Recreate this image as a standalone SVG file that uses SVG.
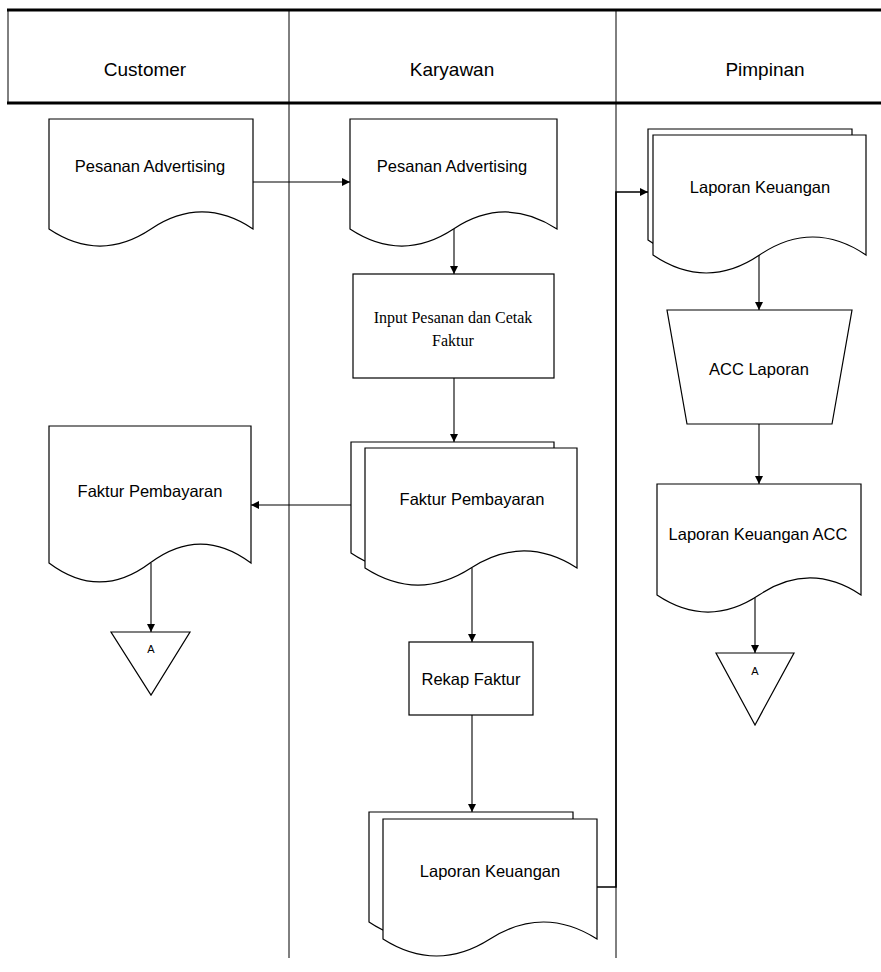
<svg xmlns="http://www.w3.org/2000/svg" width="881" height="972" viewBox="0 0 881 972">
<style>
.shape{fill:#fff;stroke:#000;stroke-width:1.2}
.ln{fill:none;stroke:#000;stroke-width:1.1}
.t{font-family:"Liberation Sans",Arial,sans-serif;font-size:16.5px;fill:#000;text-anchor:middle}
.h{font-family:"Liberation Sans",Arial,sans-serif;font-size:19px;fill:#000;text-anchor:middle}
.s{font-family:"Liberation Serif","Times New Roman",serif;font-size:16px;fill:#000;text-anchor:middle}
.a{font-family:"Liberation Sans",Arial,sans-serif;font-size:11px;fill:#000;text-anchor:middle}
</style>
<defs>
<marker id="arr" markerWidth="9" markerHeight="8" refX="8" refY="4" orient="auto" markerUnits="userSpaceOnUse">
<path d="M0,0 L8,4 L0,8 Z" fill="#000"/>
</marker>
</defs>
<rect width="881" height="972" fill="#fff"/>
<g id="lanes">
<line x1="7" y1="10" x2="881" y2="10" stroke="#000" stroke-width="3"/>
<line x1="7" y1="103" x2="881" y2="103" stroke="#000" stroke-width="3"/>
<line x1="8" y1="10" x2="8" y2="103" stroke="#000" stroke-width="1"/>
<line x1="289" y1="10" x2="289" y2="958" stroke="#000" stroke-width="1"/>
<line x1="616" y1="10" x2="616" y2="958" stroke="#000" stroke-width="1"/>
<text class="h" x="145" y="76">Customer</text>
<text class="h" x="452" y="76">Karyawan</text>
<text class="h" x="765" y="76">Pimpinan</text>
</g>
<g id="connectors">
<path class="ln" d="M253,182 H350" marker-end="url(#arr)"/>
<path class="ln" d="M454,229 V274" marker-end="url(#arr)"/>
<path class="ln" d="M454,378 V442" marker-end="url(#arr)"/>
<path class="ln" d="M351,505 H251" marker-end="url(#arr)"/>
<path class="ln" d="M151,563 V632" marker-end="url(#arr)"/>
<path class="ln" d="M472,568 V642" marker-end="url(#arr)"/>
<path class="ln" d="M472,715 V812" marker-end="url(#arr)"/>
<path d="M597,887 H616 V192 H648" fill="none" stroke="#000" stroke-width="1.6" marker-end="url(#arr)"/>
<path class="ln" d="M759,255 V310" marker-end="url(#arr)"/>
<path class="ln" d="M759,424 V484" marker-end="url(#arr)"/>
<path class="ln" d="M755,598 V653" marker-end="url(#arr)"/>
</g>
<g id="customer-pesanan">
<path class="shape" d="M49,119 H253 V229 C219,206.3 185,206.3 151,229 C117,251.7 83,251.7 49,229 Z"/>
<text class="t" x="150" y="172">Pesanan Advertising</text>
</g>
<g id="karyawan-pesanan">
<path class="shape" d="M350,119 H557 V229 C522.5,206.3 488,206.3 453.5,229 C419,251.7 384.5,251.7 350,229 Z"/>
<text class="t" x="452" y="172">Pesanan Advertising</text>
</g>
<g id="input-pesanan">
<rect class="shape" x="353" y="274" width="201" height="104"/>
<text class="s" x="453" y="323">Input Pesanan dan Cetak</text>
<text class="s" x="453" y="346">Faktur</text>
</g>
<g id="karyawan-faktur">
<path class="shape" d="M351,442 H554 V553 C520,530.3 486,530.3 452.5,553 C419,575.7 385,575.7 351,553 Z"/>
<path class="shape" d="M365,448 H577 V568 C541.7,545.3 506.3,545.3 471,568 C435.7,590.7 400.3,590.7 365,568 Z"/>
<text class="t" x="472" y="505">Faktur Pembayaran</text>
</g>
<g id="customer-faktur">
<path class="shape" d="M49,426 H251 V563 C217.3,537.7 183.7,537.7 150,563 C116.3,588.3 82.7,588.3 49,563 Z"/>
<text class="t" x="150" y="497">Faktur Pembayaran</text>
</g>
<g id="connector-a-customer">
<path class="shape" d="M111,632 H190 L151,695 Z"/>
<text class="a" x="151" y="653">A</text>
</g>
<g id="rekap-faktur">
<rect class="shape" x="409" y="642" width="124" height="73"/>
<text class="t" x="471" y="685">Rekap Faktur</text>
</g>
<g id="karyawan-laporan">
<path class="shape" d="M369,812 H573 V922 C539,899.3 505,899.3 471,922 C437,944.7 403,944.7 369,922 Z"/>
<path class="shape" d="M383,819 H597 V939 C561.3,916.3 525.7,916.3 490,939 C454.3,961.7 418.7,961.7 383,939 Z"/>
<text class="t" x="490" y="877">Laporan Keuangan</text>
</g>
<g id="pimpinan-laporan">
<path class="shape" d="M648,129 H852 V240 C818,216 784,216 750,240 C716,264 682,264 648,240 Z"/>
<path class="shape" d="M653,135 H866 V255 C830.5,231 795,231 759.5,255 C724,279 688.5,279 653,255 Z"/>
<text class="t" x="760" y="193">Laporan Keuangan</text>
</g>
<g id="acc-laporan">
<path class="shape" d="M667,310 H852 L832,424 H687 Z"/>
<text class="t" x="759" y="375">ACC Laporan</text>
</g>
<g id="laporan-acc">
<path class="shape" d="M657,484 H861 V595 C827,572.3 793,572.3 759,595 C725,617.7 691,617.7 657,595 Z"/>
<text class="t" x="758" y="540">Laporan Keuangan ACC</text>
</g>
<g id="connector-a-pimpinan">
<path class="shape" d="M716,653 H794 L755,725 Z"/>
<text class="a" x="755" y="675">A</text>
</g>
</svg>
